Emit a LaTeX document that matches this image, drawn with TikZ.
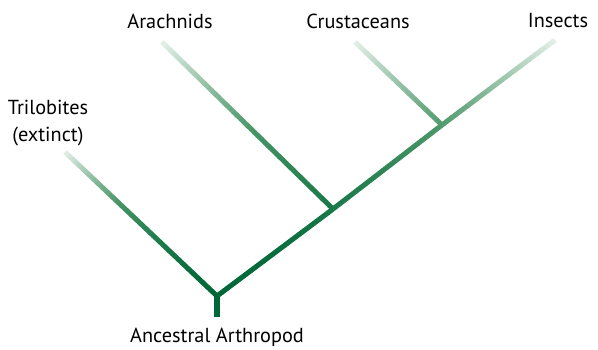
\documentclass[tikz,border=0pt]{standalone}
\usepackage{fontspec}
\setmainfont{PT Sans}
\usetikzlibrary{calc}
\definecolor{dkg}{RGB}{0,104,56}
% #1 start coord, #2 start level (0..1), #3 end coord, #4 end level
\newcommand\gline[4]{%
  \foreach \i in {0,...,47}{%
    \pgfmathsetmacro\ta{\i/48}%
    \pgfmathsetmacro\tb{min(1,(\i+1.1)/48)}%
    \pgfmathsetmacro\sv{#2+(#4-#2)*(\i+0.5)/48}%
    \pgfmathsetmacro\pv{\sv^1.6}%
    \pgfmathtruncatemacro\R{\pv<0.5 ? 144*\pv : 72+312*(\pv-0.5)}%
    \pgfmathtruncatemacro\G{\pv<0.5 ? 104+92*\pv : 150+180*(\pv-0.5)}%
    \pgfmathtruncatemacro\B{\pv<0.5 ? 56+92*\pv : 102+262*(\pv-0.5)}%
    \definecolor{segc}{RGB}{\R,\G,\B}%
    \draw[branch, draw=segc] ($(#1)!\ta!(#3)$) -- ($(#1)!\tb!(#3)$);
  }}
\tikzset{
  branch/.style={line width=5pt, line cap=butt},
  lbl/.style={font=\fontsize{20.3}{27.5}\selectfont, text=black, inner sep=0pt, align=center}
}
\begin{document}
\begin{tikzpicture}[x=1pt,y=-1pt]
\useasboundingbox (0,0) rectangle (598,349);
\coordinate (root) at (217,296);
\coordinate (base) at (217,317);
\coordinate (ja) at (333,209);
\coordinate (jc) at (442,125);
\coordinate (ti) at (555,40);
\coordinate (ta) at (162,42);
\coordinate (tc) at (355,42);
\coordinate (tt) at (65,152);
\gline{root}{0}{tt}{1}
\gline{ja}{0.34}{ta}{1}
\gline{jc}{0.67}{tc}{1}
\gline{root}{0}{ja}{0.34}
\gline{ja}{0.34}{jc}{0.67}
\gline{jc}{0.67}{ti}{1}
\draw[line width=6pt, draw=dkg] ($(root)+(0,-3)$) -- (base);
\node[lbl] (arach) at (170,21) {Arachnids};
\node[lbl] (crust) at (358,21) {Crustaceans};
\node[lbl] (insect) at (558,21) {Insects};
\node[lbl] (trilo) at (48,123) {Trilobites\\(extinct)};
\node[lbl] (anc) at (217,337) {Ancestral Arthropod};
\end{tikzpicture}
\end{document}
